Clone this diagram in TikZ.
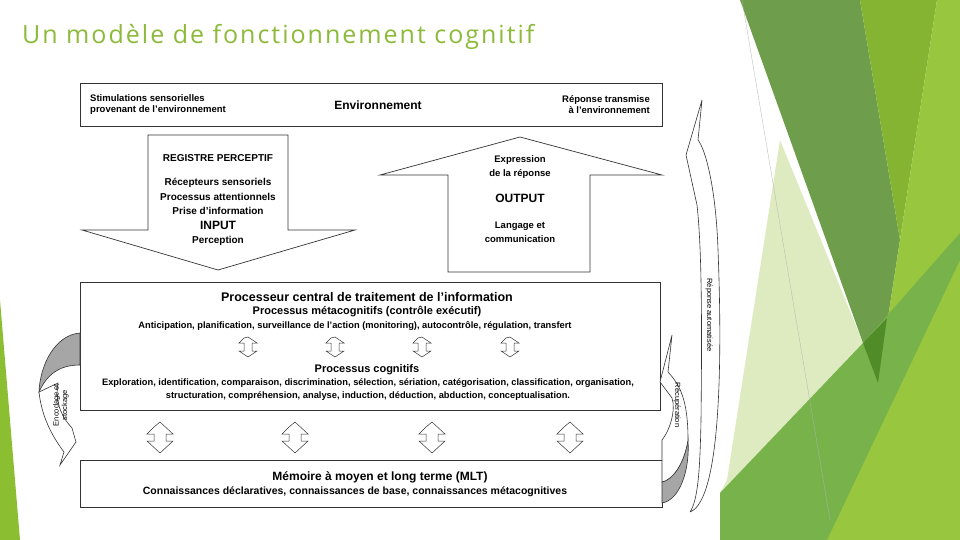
\documentclass[tikz,border=0pt]{standalone}
\usepackage{fontspec}
\setmainfont{Liberation Sans}
\newfontfamily\titlefont[LetterSpace=8]{Open Sans}
\begin{document}
\begin{tikzpicture}[x=1pt,y=-1pt,
  box/.style={draw=black!80,line width=0.8pt,fill=white},
  arr/.style={draw=black!80,line width=0.7pt,fill=white},
  t/.style={font=\bfseries\fontsize{9.5}{11}\selectfont,align=center,inner sep=0pt},
  tb/.style={font=\bfseries\fontsize{12}{14}\selectfont,align=center,inner sep=0pt}]
\useasboundingbox (0,0) rectangle (960,540);
\fill[white] (0,0) rectangle (960,540);
% background greens
\fill[fill={rgb,255:red,222;green,235;blue,192}] (780,140) -- (863,343) -- (720,493) -- (727,480) -- cycle;
\fill[fill={rgb,255:red,110;green,158;blue,76}] (740,0) -- (860,0) -- (900,240) -- (878,383) -- (863,343) -- cycle;
\fill[fill={rgb,255:red,133;green,180;blue,50}] (860,0) -- (937,0) -- (900,240) -- cycle;
\fill[fill={rgb,255:red,152;green,198;blue,62}] (937,0) -- (960,0) -- (960,540) -- (820,540) -- (878,383) -- (900,240) -- cycle;
\fill[fill={rgb,255:red,120;green,178;blue,74}] (720,493) -- (863,343) -- (960,233) -- (960,260) -- (827,540) -- (720,540) -- cycle;
\fill[fill={rgb,255:red,80;green,140;blue,40}] (863,343) -- (887,318) -- (878,383) -- cycle;
\fill[fill={rgb,255:red,140;green,190;blue,50}] (0,300) -- (20,540) -- (0,540) -- cycle;
\draw[black!30,line width=0.3pt] (742,0) -- (830,520);
\node[anchor=west,inner sep=0pt,text={rgb,255:red,141;green,186;blue,59},font=\titlefont\fontsize{25}{29}\selectfont] (title) at (22,37) {Un modèle de fonctionnement cognitif};
% boxes
\node[box,minimum width=582pt,minimum height=43pt,anchor=north west,inner sep=0pt] (env) at (80,83) {};
\node[t,anchor=west,align=left] (stim) at (90,105) {Stimulations sensorielles\\provenant de l'environnement};
\node[tb] (envt) at (378,105) {Environnement};
\node[t,anchor=east,align=right] (rep) at (650,105) {Réponse transmise\\à l'environnement};
% input arrow
\draw[arr] (148,135) -- (288,135) -- (288,230) -- (355,230) -- (218,270) -- (82,230) -- (148,230) -- cycle;
\node[t,font=\bfseries\fontsize{10}{14.5}\selectfont] (input) at (218,200) {REGISTRE PERCEPTIF\\[10pt]Récepteurs sensoriels\\Processus attentionnels\\Prise d'information\\{\fontsize{12}{13}\selectfont INPUT}\\Perception};
% output arrow
\draw[arr] (520,137) -- (662,175) -- (590,175) -- (590,272) -- (448,272) -- (448,175) -- (380,175) -- cycle;
\node[t,font=\bfseries\fontsize{9.5}{14}\selectfont] (output) at (520,199) {Expression\\de la réponse\\[12pt]{\fontsize{12}{13}\selectfont OUTPUT}\\[12pt]Langage et\\communication};
% central box
\node[box,minimum width=580pt,minimum height=128pt,anchor=north west,inner sep=0pt] (cpu) at (80,282) {};
\node[tb,font=\bfseries\fontsize{12.5}{14}\selectfont] (cput) at (367,297) {Processeur central de traitement de l'information};
\node[t,font=\bfseries\fontsize{11}{13}\selectfont] (meta) at (367,312) {Processus métacognitifs (contrôle exécutif)};
\node[t,font=\bfseries\fontsize{9.3}{11}\selectfont] (metal) at (355,326) {Anticipation, planification, surveillance de l'action (monitoring), autocontrôle, régulation, transfert};
\node[t,font=\bfseries\fontsize{11}{13}\selectfont] (cog) at (367,370) {Processus cognitifs};
\node[t,font=\bfseries\fontsize{9.3}{13}\selectfont] (cogl) at (368,390) {Exploration, identification, comparaison, discrimination, sélection, sériation, catégorisation, classification, organisation,\\structuration, compréhension, analyse, induction, déduction, abduction, conceptualisation.};
% MLT
\node[box,minimum width=582pt,minimum height=47pt,anchor=north west,inner sep=0pt] (mlt) at (80,460) {};
\node[tb] (mltt) at (380,477) {Mémoire à moyen et long terme (MLT)};
\node[t,font=\bfseries\fontsize{10.5}{12}\selectfont] (mltl) at (355,492) {Connaissances déclaratives, connaissances de base, connaissances métacognitives};
% small double arrows
\foreach \x in {248,335,422,510}{
  \draw[arr,line width=0.5pt] (\x-4,338) -- (\x-9,343) -- (\x-4,343) -- (\x-4,351) -- (\x-9,351) -- (\x,357) -- (\x+9,351) -- (\x+4,351) -- (\x+4,343) -- (\x+9,343) -- (\x,337) -- cycle;}
\foreach \x in {160,295,432,570}{
  \draw[arr,line width=0.5pt] (\x-6,427) -- (\x-13,434) -- (\x-6,434) -- (\x-6,441) -- (\x-13,441) -- (\x,453) -- (\x+13,441) -- (\x+6,441) -- (\x+6,434) -- (\x+13,434) -- (\x,422) -- (\x-6,427) -- cycle;}
% left curved arrow (encodage)
\fill[black!35,draw=black!80,line width=0.6pt] (80,333) .. controls (55,335) and (40,365) .. (39,392) .. controls (48,372) and (62,365) .. (80,365) -- cycle;
\draw[arr,line width=0.6pt] (39,392) .. controls (42,420) and (55,440) .. (64,452) -- (60,465) -- (76,442) -- (72,428) .. controls (60,415) and (55,400) .. (58,383) -- cycle;
\node[font=\fontsize{7.5}{8.5}\selectfont,rotate=90,align=center,inner sep=0pt] (enc) at (61,405) {Encodage et\\stockage};
% right: récupération
\fill[black!35,draw=black!80,line width=0.6pt] (662,503) .. controls (680,500) and (690,470) .. (688,440) .. controls (684,465) and (672,480) .. (662,482) -- cycle;
\draw[arr,line width=0.6pt] (688,440) .. controls (688,400) and (680,385) .. (668,372) -- (672,335) -- (660,382) -- (672,398) .. controls (676,410) and (670,430) .. (662,440) -- (662,482) .. controls (672,480) and (684,465) .. (688,440);
\node[font=\fontsize{7.5}{8.5}\selectfont,rotate=-90,inner sep=0pt] (recup) at (677,405) {Récupération};
% réponse automatisée
\draw[arr,line width=0.6pt] (690,512) .. controls (722,500) and (722,350) .. (718,250) .. controls (716,190) and (706,150) .. (698,140) -- (702,100) -- (686,155) -- (697,205) .. controls (702,250) and (702,330) .. (701,420) .. controls (700,470) and (698,500) .. (690,512);
\node[font=\fontsize{7.5}{8.5}\selectfont,rotate=-90,inner sep=0pt] (auto) at (709,315) {Réponse automatisée};
\end{tikzpicture}
\end{document}
